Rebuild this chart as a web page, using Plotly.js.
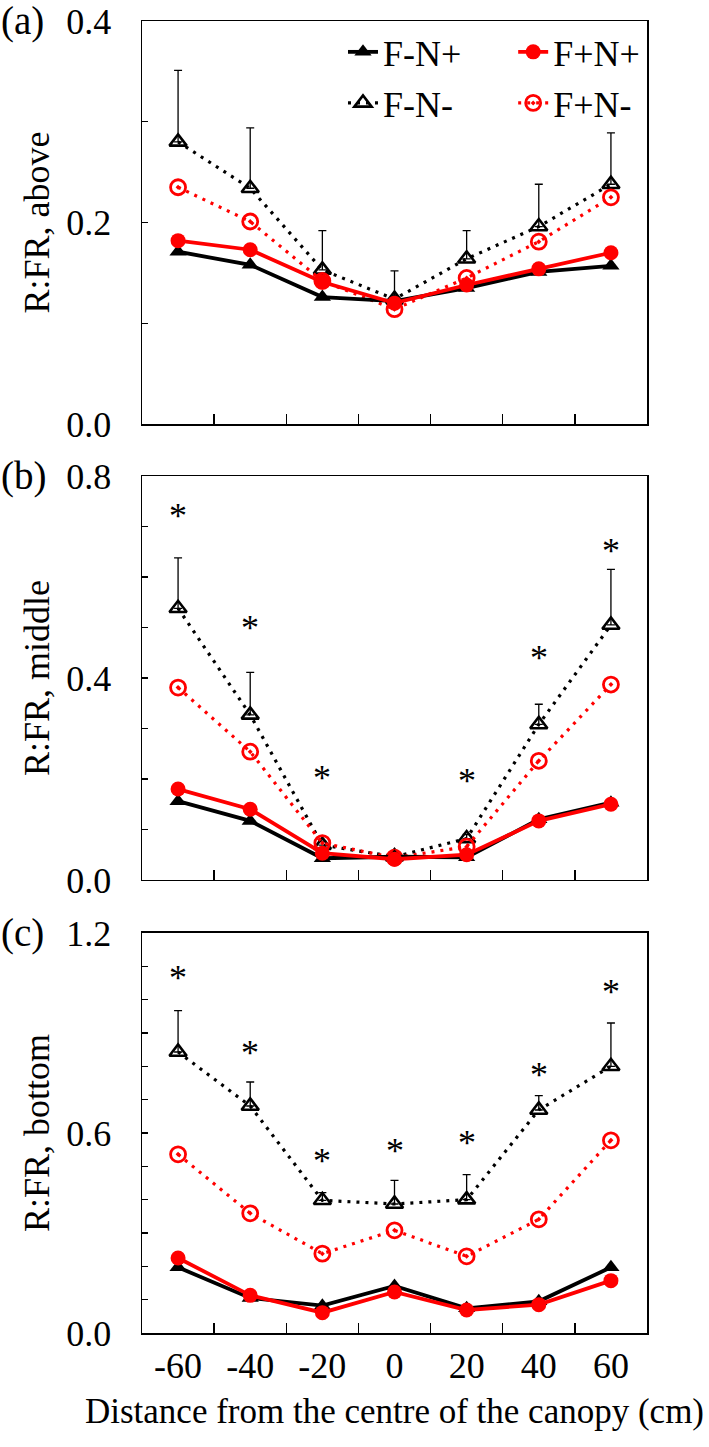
<!DOCTYPE html>
<html>
<head>
<meta charset="utf-8">
<script src="https://cdn.plot.ly/plotly-3.0.1.min.js"></script>
<style>
html,body{margin:0;padding:0;background:#fff;}
#chart{width:709px;height:1447px;}
</style>
</head>
<body>
<div id="chart"></div>
<script>
// ---------- DATA ----------
var distances = ["-60", "-40", "-20", "0", "20", "40", "60"];

// (a) above
var aboveFNp  = [0.171, 0.158, 0.126, 0.122, 0.135, 0.151, 0.157];
var aboveFpNp = [0.182, 0.173, 0.141, 0.120, 0.138, 0.154, 0.170];
var aboveFNm  = [0.280, 0.234, 0.153, 0.124, 0.164, 0.196, 0.238];
var aboveFNmErr = [0.071, 0.060, 0.039, 0.028, 0.028, 0.042, 0.051];
var aboveFpNm = [0.235, 0.201, 0.142, 0.114, 0.145, 0.181, 0.225];

// (b) middle
var middleFNp  = [0.156, 0.117, 0.043, 0.046, 0.045, 0.120, 0.153];
var middleFpNp = [0.180, 0.140, 0.053, 0.041, 0.050, 0.117, 0.150];
var middleFNm  = [0.538, 0.327, 0.069, 0.046, 0.082, 0.308, 0.505];
var middleFNmErr = [0.100, 0.084, 0.008, 0.005, 0.008, 0.040, 0.110];
var middleFpNm = [0.381, 0.254, 0.073, 0.044, 0.066, 0.236, 0.387];
var middleStarX = ["-60", "-40", "-20", "20", "40", "60"];
var middleStarY = [0.732, 0.511, 0.214, 0.208, 0.452, 0.663];

// (c) bottom
var bottomFNp  = [0.197, 0.105, 0.082, 0.141, 0.074, 0.095, 0.197];
var bottomFpNp = [0.225, 0.113, 0.061, 0.123, 0.069, 0.085, 0.157];
var bottomFNm  = [0.843, 0.681, 0.398, 0.387, 0.400, 0.669, 0.800];
var bottomFNmErr = [0.124, 0.072, 0.023, 0.071, 0.075, 0.043, 0.130];
var bottomFpNm = [0.536, 0.359, 0.238, 0.308, 0.230, 0.341, 0.578];
var bottomStarX = ["-60", "-40", "-20", "0", "20", "40", "60"];
var bottomStarY = [1.082, 0.857, 0.533, 0.564, 0.589, 0.792, 1.040];

var aboveTicks = [0, 0.1, 0.2, 0.3, 0.4];
var aboveTickText = ["0.0", "", "0.2", "", "0.4"];
var middleTicks = [0, 0.1, 0.2, 0.3, 0.4, 0.5, 0.6, 0.7, 0.8];
var middleTickText = ["0.0", "", "", "", "0.4", "", "", "", "0.8"];
var bottomTicks = [0, 0.1, 0.2, 0.3, 0.4, 0.5, 0.6, 0.7, 0.8, 0.9, 1.0, 1.1, 1.2];
var bottomTickText = ["0.0", "", "", "", "", "", "0.6", "", "", "", "", "", "1.2"];

// ---------- STYLE ----------
var FONT = "Liberation Serif, Times New Roman, serif";
var RED = "#ff0000";
var DOTS = "3px,6px";
var FS = 36;

function panelTraces(ax, fnp, fpnp, fnm, fnmErr, fpnm, show) {
  var xa = ax === "" ? "x" : "x" + ax;
  var ya = ax === "" ? "y" : "y" + ax;
  return [
    {
      x: distances, y: fnm, xaxis: xa, yaxis: ya, name: "F-N-",
      type: "scatter", mode: "lines+markers", legend: "legend3", showlegend: show,
      line: {color: "#000", width: 3.2, dash: DOTS},
      marker: {symbol: "triangle-up-open", size: 15, color: "#000", line: {width: 2.6, color: "#000"}},
      error_y: {type: "data", symmetric: false, array: fnmErr, arrayminus: fnmErr.map(function(){return 0;}),
                color: "#000", thickness: 1.3, width: 4}
    },
    {
      x: distances, y: fpnm, xaxis: xa, yaxis: ya, name: "F+N-",
      type: "scatter", mode: "lines+markers", legend: "legend4", showlegend: show,
      line: {color: RED, width: 3.2, dash: DOTS},
      marker: {symbol: "circle-open-dot", size: 15, color: RED, line: {width: 2.8, color: RED}}
    },
    {
      x: distances, y: fnp, xaxis: xa, yaxis: ya, name: "F-N+",
      type: "scatter", mode: "lines+markers", legend: "legend", showlegend: show,
      line: {color: "#000", width: 3.8},
      marker: {symbol: "triangle-up", size: 15, color: "#000"}
    },
    {
      x: distances, y: fpnp, xaxis: xa, yaxis: ya, name: "F+N+",
      type: "scatter", mode: "lines+markers", legend: "legend2", showlegend: show,
      line: {color: RED, width: 3.8},
      marker: {symbol: "circle", size: 15, color: RED}
    }
  ];
}

var traces = []
  .concat(panelTraces("", aboveFNp, aboveFpNp, aboveFNm, aboveFNmErr, aboveFpNm, true))
  .concat(panelTraces("2", middleFNp, middleFpNp, middleFNm, middleFNmErr, middleFpNm, false))
  .concat(panelTraces("3", bottomFNp, bottomFpNp, bottomFNm, bottomFNmErr, bottomFpNm, false));

function xAxis(anchor, showLabels) {
  return {
    anchor: anchor, domain: [0, 1], type: "category",
    categoryorder: "array", categoryarray: distances,
    range: [-0.5, 6.5], tickson: "boundaries",
    ticks: "inside", ticklen: 10, tickwidth: 1.3, tickcolor: "#000",
    showticklabels: showLabels, ticklabelstandoff: 0,
    tickfont: {family: FONT, size: FS, color: "#000"},
    showline: true, mirror: true, linecolor: "#000", linewidth: 1.5,
    showgrid: false, zeroline: false, fixedrange: true
  };
}
function yAxis(domain, range, tv, tt, title) {
  return {
    domain: domain, range: range, tickvals: tv, ticktext: tt,
    ticks: "inside", ticklen: 6, tickwidth: 1.3, tickcolor: "#000",
    ticklabelstandoff: 22,
    tickfont: {family: FONT, size: FS, color: "#000"},
    showline: true, mirror: true, linecolor: "#000", linewidth: 1.5,
    showgrid: false, zeroline: false, fixedrange: true,
    title: {text: title, font: {family: FONT, size: 36, color: "#000"}, standoff: 5}
  };
}

var annotations = [];
function star(xs, ys, xr, yr) {
  for (var i = 0; i < xs.length; i++) {
    annotations.push({x: distances.indexOf(xs[i]), y: ys[i], xref: xr, yref: yr, text: "*", showarrow: false,
      yshift: -6, font: {family: FONT, size: 36, color: "#000"}});
  }
}
star(middleStarX, middleStarY, "x2", "y2");
star(bottomStarX, bottomStarY, "x3", "y3");

var panelLabels = ["(a)", "(b)", "(c)"];
var panelRefs = ["y domain", "y2 domain", "y3 domain"];
for (var k = 0; k < 3; k++) {
  annotations.push({text: panelLabels[k], xref: "paper", x: -0.284, xanchor: "left",
    yref: panelRefs[k], y: 1, yanchor: "middle", showarrow: false,
    font: {family: FONT, size: 39, color: "#000"}});
}

function legendBox(x, y) {
  return {orientation: "v", x: x, y: y, xanchor: "left", yanchor: "middle",
    bgcolor: "rgba(0,0,0,0)", borderwidth: 0,
    font: {family: FONT, size: FS, color: "#000"}};
}

var layout = {
  width: 709, height: 1447,
  margin: {l: 142, r: 62, t: 21, b: 114},
  paper_bgcolor: "#fff", plot_bgcolor: "#fff",
  font: {family: FONT, color: "#000", size: FS},
  showlegend: true,
  xaxis: xAxis("y", false),
  xaxis2: xAxis("y2", false),
  xaxis3: Object.assign(xAxis("y3", true), {
    title: {text: "Distance from the centre of the canopy (cm)", font: {family: FONT, size: 35, color: "#000"}, standoff: 14}
  }),
  yaxis: yAxis([0.6928, 1], [0, 0.4], aboveTicks, aboveTickText, "R:FR, above"),
  yaxis2: yAxis([0.3453, 0.6532], [0, 0.8], middleTicks, middleTickText, "R:FR, middle"),
  yaxis3: yAxis([0, 0.3049], [0, 1.2], bottomTicks, bottomTickText, "R:FR, bottom"),
  legend: legendBox(0.398, 0.9764),
  legend2: legendBox(0.735, 0.9764),
  legend3: legendBox(0.398, 0.9375),
  legend4: legendBox(0.735, 0.9375),
  annotations: annotations
};

Plotly.newPlot("chart", traces, layout, {staticPlot: true, displayModeBar: false});
</script>
</body>
</html>
